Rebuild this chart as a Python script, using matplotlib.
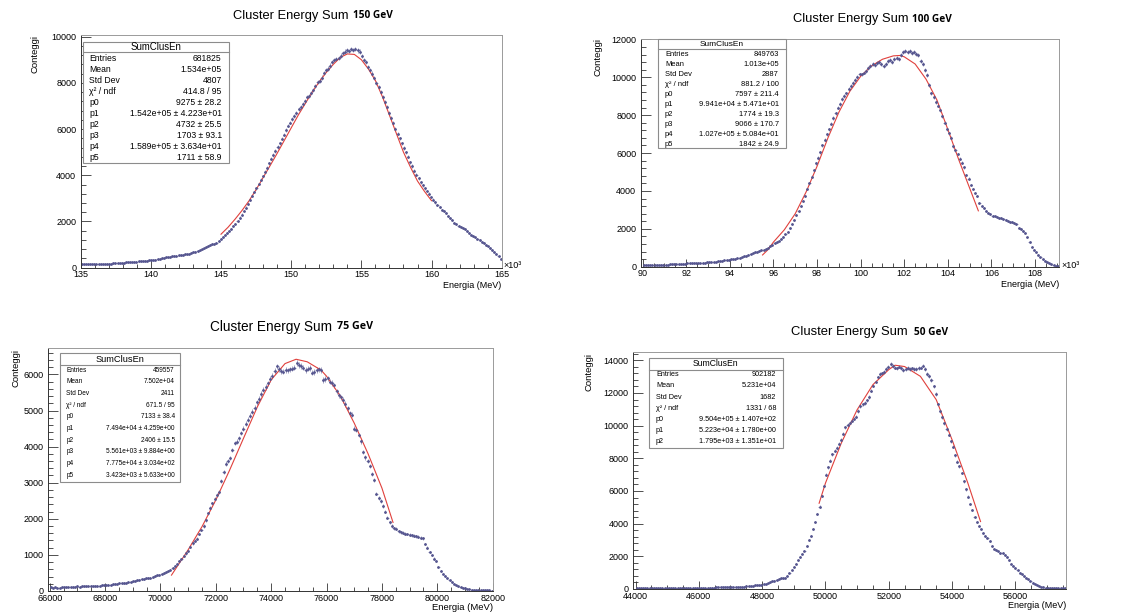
import numpy as np
import matplotlib
matplotlib.use("Agg")
import matplotlib.pyplot as plt
from matplotlib.ticker import MultipleLocator, FuncFormatter
from matplotlib.patches import Rectangle
from matplotlib.lines import Line2D

W, H = 1121, 614
plt.rcParams["font.family"] = ["Liberation Sans", "DejaVu Sans"]

# ---------------- data ----------------
# 150 GeV: 200 bins from 135000 to 165000 MeV
counts_150 = [
    150, 148, 152, 150, 155, 153, 158, 156, 160, 162,
    165, 168, 170, 174, 178, 183, 188, 196, 203, 215,
    225, 232, 238, 245, 252, 258, 266, 272, 280, 288,
    298, 306, 314, 322, 332, 345, 372, 395, 410, 430,
    445, 462, 480, 498, 512, 525, 535, 548, 560, 572,
    590, 612, 640, 665, 690, 720, 752, 790, 840, 890,
    935, 975, 1020, 1040, 1070, 1150, 1250, 1340, 1410, 1490,
    1580, 1680, 1790, 1900, 2030, 2170, 2300, 2450, 2600, 2770,
    2950, 3110, 3270, 3440, 3620, 3800, 3970, 4150, 4320, 4520,
    4720, 4880, 5050, 5230, 5380, 5580, 5760, 5950, 6150, 6280,
    6420, 6560, 6680, 6850, 6950, 7100, 7230, 7380, 7420, 7560,
    7700, 7850, 8050, 8100, 8230, 8420, 8550, 8620, 8750, 8900,
    8980, 9040, 9080, 9180, 9280, 9350, 9400, 9380, 9460, 9420,
    9470, 9400, 9350, 9150, 9000, 8900, 8700, 8550, 8400, 8200,
    8000, 7800, 7600, 7400, 7180, 6950, 6700, 6480, 6250, 6020,
    5800, 5600, 5380, 5180, 5000, 4800, 4560, 4400, 4200, 4020,
    3870, 3700, 3560, 3440, 3320, 3200, 3050, 2950, 2830, 2720,
    2620, 2500, 2440, 2360, 2250, 2150, 2060, 1950, 1900, 1800,
    1760, 1720, 1660, 1600, 1490, 1430, 1360, 1310, 1260, 1200,
    1120, 1060, 990, 920, 850, 770, 690, 610, 500, 380,
]
fit_150_x = [145000, 145500, 146000, 146500, 147000, 147500, 148000, 148500,
             149000, 149500, 150000, 150500, 151000, 151500, 152000, 152500,
             153000, 153500, 154000, 154500, 155000, 155500, 156000, 156500,
             157000, 157500, 158000, 158500, 159000, 159500, 160000]
fit_150_y = [1450, 1750, 2100, 2480, 2900, 3380, 3900, 4420,
             4950, 5500, 6050, 6600, 7100, 7600, 8050, 8450,
             8800, 9100, 9250, 9230, 9000, 8600, 8100, 7400,
             6600, 5800, 5000, 4350, 3750, 3300, 2900]
stats_150 = [("Entries", "681825"), ("Mean", "1.534e+05"), ("Std Dev", "4807"),
             ("χ² / ndf", "414.8 / 95"), ("p0", "9275 ± 28.2"),
             ("p1", "1.542e+05 ± 4.223e+01"), ("p2", "4732 ± 25.5"),
             ("p3", "1703 ± 93.1"), ("p4", "1.589e+05 ± 3.634e+01"),
             ("p5", "1711 ± 58.9")]

# 100 GeV: 191 bins from 90000 to 109100 MeV
counts_100 = [
    95, 100, 98, 105, 100, 102, 108, 104, 110, 106,
    110, 115, 118, 124, 128, 135, 140, 148, 158, 168,
    175, 172, 180, 185, 190, 195, 205, 212, 220, 228,
    235, 245, 255, 270, 290, 300, 315, 340, 360, 380,
    395, 412, 428, 448, 470, 510, 545, 590, 640, 690,
    735, 770, 800, 830, 860, 905, 940, 1000, 1080, 1150,
    1230, 1300, 1380, 1470, 1580, 1700, 1850, 2050, 2250, 2480,
    2750, 2950, 3200, 3450, 3750, 4100, 4400, 4750, 5100, 5450,
    5750, 6050, 6400, 6700, 7000, 7250, 7550, 7850, 8100, 8400,
    8600, 8850, 9000, 9150, 9400, 9550, 9700, 9850, 10000, 10150,
    10150, 10250, 10350, 10500, 10600, 10700, 10650, 10750, 10800, 10700,
    10600, 10700, 10850, 10900, 10800, 10950, 11000, 10950, 11150, 11350,
    11400, 11350, 11380, 11300, 11320, 11250, 11150, 10850, 10700, 10400,
    10100, 9600, 9150, 8950, 8700, 8500, 8250, 7950, 7600, 7250,
    7050, 6800, 6350, 6150, 5950, 5700, 5500, 5250, 4850, 4650,
    4300, 4100, 3900, 3750, 3350, 3200, 3100, 2950, 2850, 2780,
    2700, 2650, 2620, 2580, 2550, 2500, 2450, 2420, 2380, 2350,
    2300, 2250, 2050, 1980, 1900, 1800, 1550, 1300, 1050, 900,
    750, 620, 500, 400, 320, 230, 170, 120, 80, 50,
    35,
]
fit_100_x = [95500, 95750, 96000, 96500, 97000, 97500, 98000, 98500, 99000,
             99500, 100000, 100500, 101000, 101500, 101800, 102000, 102500,
             103000, 103500, 104000, 104500, 105000, 105400]
fit_100_y = [620, 900, 1300, 1950, 2800, 3950, 5300, 6800, 8150,
             9250, 10050, 10600, 10950, 11130, 11150, 11080, 10700,
             9900, 8800, 7250, 5650, 4150, 2950]
stats_100 = [("Entries", "849763"), ("Mean", "1.013e+05"), ("Std Dev", "2887"),
             ("χ² / ndf", "881.2 / 100"), ("p0", "7597 ± 211.4"),
             ("p1", "9.941e+04 ± 5.471e+01"), ("p2", "1774 ± 19.3"),
             ("p3", "9066 ± 170.7"), ("p4", "1.027e+05 ± 5.084e+01"),
             ("p5", "1842 ± 24.9")]

# 75 GeV: 200 bins from 66000 to 82000 MeV
counts_75 = [
    100, 96, 98, 92, 95, 100, 104, 102, 108, 112,
    116, 120, 125, 122, 128, 132, 130, 138, 142, 140,
    148, 152, 150, 158, 165, 170, 175, 180, 190, 200,
    205, 212, 215, 222, 230, 240, 252, 268, 285, 300,
    310, 325, 335, 350, 360, 372, 388, 410, 430, 455,
    480, 500, 520, 550, 590, 640, 690, 760, 830, 890,
    960, 1040, 1110, 1230, 1320, 1390, 1450, 1580, 1690, 1800,
    1960, 2150, 2300, 2430, 2560, 2650, 2750, 3050, 3300, 3530,
    3600, 3680, 3900, 4100, 4140, 4230, 4380, 4500, 4630, 4750,
    4860, 4960, 5080, 5230, 5320, 5460, 5580, 5650, 5750, 5880,
    5960, 6100, 6220, 6150, 6090, 6080, 6120, 6110, 6140, 6160,
    6190, 6310, 6270, 6240, 6190, 6130, 6160, 6170, 6050, 6060,
    6120, 6140, 6120, 5850, 5880, 5890, 5800, 5760, 5700, 5530,
    5420, 5370, 5290, 5180, 5060, 4930, 4880, 4500, 4470, 4320,
    4150, 3850, 3700, 3600, 3460, 3250, 3080, 2700, 2580, 2500,
    2350, 2200, 2030, 1900, 1800, 1740, 1720, 1660, 1630, 1610,
    1590, 1580, 1560, 1540, 1530, 1510, 1500, 1480, 1460, 1300,
    1200, 1080, 990, 900, 830, 660, 560, 480, 420, 350,
    300, 250, 200, 165, 130, 105, 90, 75, 60, 45,
    38, 32, 28, 25, 22, 20, 18, 15, 14, 12,
]
fit_75_x = [70400, 71000, 71500, 72000, 72500, 73000, 73500, 74000, 74500,
            74900, 75300, 75800, 76000, 76500, 77000, 77500, 78000, 78400]
fit_75_y = [440, 1140, 1780, 2520, 3350, 4230, 5100, 5850, 6300,
            6420, 6350, 6120, 5950, 5400, 4650, 3800, 2850, 1900]
stats_75 = [("Entries", "459557"), ("Mean", "7.502e+04"), ("Std Dev", "2411"),
            ("χ² / ndf", "671.5 / 95"), ("p0", "7133 ± 38.4"),
            ("p1", "7.494e+04 ± 4.259e+00"), ("p2", "2406 ± 15.5"),
            ("p3", "5.561e+03 ± 9.884e+00"), ("p4", "7.775e+04 ± 3.034e+02"),
            ("p5", "3.423e+03 ± 5.633e+00")]

# 50 GeV: 200 bins from 44000 to 57600 MeV
counts_50 = [
    40, 38, 42, 40, 44, 42, 45, 43, 46, 48,
    47, 50, 52, 50, 54, 55, 53, 57, 58, 60,
    60, 62, 61, 64, 66, 65, 68, 70, 72, 75,
    78, 80, 82, 80, 85, 88, 90, 92, 95, 98,
    100, 104, 108, 110, 115, 118, 122, 128, 132, 140,
    150, 158, 170, 182, 198, 215, 235, 255, 275, 300,
    330, 370, 410, 460, 520, 580, 640, 660, 650, 700,
    820, 1000, 1180, 1370, 1560, 1760, 1950, 2160, 2350, 2620,
    3000, 3250, 3650, 4100, 4600, 5050, 5700, 6300, 7000, 7450,
    7850, 8250, 8450, 8650, 8900, 9150, 9500, 9900, 10050, 10180,
    10300, 10420, 10550, 10900, 11200, 11300, 11400, 11550, 11750, 12150,
    12450, 12700, 12950, 13150, 13200, 13300, 13450, 13600, 13750, 13650,
    13560, 13500, 13620, 13550, 13430, 13480, 13530, 13450, 13500, 13480,
    13470, 13520, 13560, 13680, 13450, 13150, 13020, 12800, 12400, 11950,
    11300, 10900, 10500, 10150, 9800, 9450, 9050, 8700, 8200, 7800,
    7500, 7100, 6600, 6100, 5650, 5200, 4850, 4400, 4100, 3850,
    3700, 3450, 3250, 3100, 2950, 2650, 2450, 2380, 2300, 2220,
    2190, 2080, 1960, 1760, 1560, 1420, 1290, 1150, 1010, 900,
    790, 690, 590, 500, 390, 310, 240, 170, 130, 105,
    90, 80, 70, 60, 55, 50, 45, 42, 40, 40,
]
fit_50_x = [49800, 50000, 50500, 51000, 51500, 52000, 52200, 52500, 53000,
            53500, 54000, 54500, 54900]
fit_50_y = [5250, 6480, 8930, 10970, 12510, 13430, 13700, 13620, 13020,
            11590, 9140, 6480, 4130]
stats_50 = [("Entries", "902182"), ("Mean", "5.231e+04"), ("Std Dev", "1682"),
            ("χ² / ndf", "1331 / 68"), ("p0", "9.504e+05 ± 1.407e+02"),
            ("p1", "5.223e+04 ± 1.780e+00"), ("p2", "1.795e+03 ± 1.351e+01")]

HIST_COLOR = "#55558f"
FIT_COLOR = "#e0403c"

fig = plt.figure(figsize=(W / 100, H / 100), dpi=100)


def px(x, y):
    return x / W, 1 - y / H


def panel(frame, hist_range, xlim, ylim, counts, fit_x, fit_y,
          xmaj, xmin, ymaj, ymin, kilo):
    l, t, r, b = frame
    ax = fig.add_axes([l / W, 1 - b / H, (r - l) / W, (b - t) / H])
    edges = np.linspace(hist_range[0], hist_range[1], len(counts) + 1)
    centers = 0.5 * (edges[1:] + edges[:-1])
    y = np.array(counts, dtype=float)
    ax.errorbar(centers, y, yerr=np.sqrt(y), xerr=(edges[1] - edges[0]) / 2,
                fmt="o", ms=2.0, mew=0, color=HIST_COLOR, ecolor="#7a7aa8",
                elinewidth=0.5, capsize=0)
    ax.plot(fit_x, fit_y, color=FIT_COLOR, lw=0.8)
    ax.set_xlim(*xlim)
    ax.set_ylim(*ylim)
    ax.xaxis.set_major_locator(MultipleLocator(xmaj))
    ax.xaxis.set_minor_locator(MultipleLocator(xmin))
    ax.yaxis.set_major_locator(MultipleLocator(ymaj))
    ax.yaxis.set_minor_locator(MultipleLocator(ymin))
    if kilo:
        ax.xaxis.set_major_formatter(FuncFormatter(lambda v, _: f"{v / 1000:g}"))
    else:
        ax.xaxis.set_major_formatter(FuncFormatter(lambda v, _: f"{v:.0f}"))
    ax.yaxis.set_major_formatter(FuncFormatter(lambda v, _: f"{v:.0f}"))
    ax.tick_params(which="both", direction="in", top=False, right=False,
                   labelsize=6.5, width=0.6, color="#333333")
    ax.tick_params(axis="x", which="major", length=5.8, pad=2)
    ax.tick_params(axis="x", which="minor", length=2.9)
    ax.tick_params(axis="y", which="major", length=7.2, pad=3.2)
    ax.tick_params(axis="y", which="minor", length=3.6)
    for side in ("top", "right"):
        ax.spines[side].set_color("#9a9a9a")
        ax.spines[side].set_linewidth(0.7)
    for side in ("left", "bottom"):
        ax.spines[side].set_color("#333333")
        ax.spines[side].set_linewidth(0.7)
    return ax


def stat_box(box, title_y, line_y, rows_y0, row_dy, lab_x, val_x, rows,
             title_size, row_size):
    l, t, r, b = box
    fig.patches.append(Rectangle(px(l, b), (r - l) / W, (b - t) / H,
                                 transform=fig.transFigure, facecolor="white",
                                 edgecolor="#8c8c8c", lw=0.8, zorder=5))
    fig.lines.append(Line2D([l / W, r / W], [1 - line_y / H] * 2,
                            transform=fig.transFigure, color="#8c8c8c",
                            lw=0.8, zorder=6))
    fig.text(*px((l + r) / 2, title_y), "SumClusEn", ha="center", va="center",
             fontsize=title_size, zorder=7)
    for k, (lab, val) in enumerate(rows):
        yy = rows_y0 + k * row_dy
        fig.text(*px(lab_x, yy), lab, ha="left", va="center",
                 fontsize=row_size, zorder=7)
        fig.text(*px(val_x, yy), val, ha="right", va="center",
                 fontsize=row_size, zorder=7)


def title(x_left, x_right, yc, energy, size):
    fig.text(*px(x_left, yc), "Cluster Energy Sum", ha="left", va="center",
             fontsize=size)
    fig.text(*px(x_right, yc), energy, ha="right", va="center",
             fontsize=size * 0.78, family="Open Sans", weight="bold")


# ---- 150 GeV ----
panel((80.7, 35, 501.7, 267.7), (135000, 165000), (135000, 165000),
      (0, 10070), counts_150, fit_150_x, fit_150_y, 5000, 1000, 2000, 400, True)
title(233, 393, 16, "150 GeV", 9.3)
stat_box((82.7, 42, 229, 163), 47, 52.3, 58.7, 11.0, 89.3, 221.7,
         stats_150, 6.9, 6.2)
fig.text(*px(35, 35), "Conteggi", rotation=90, ha="center", va="top", fontsize=6.8)
fig.text(*px(501.7, 285), "Energia (MeV)", ha="right", va="center", fontsize=6.5)
fig.text(*px(503, 265), "×10³", ha="left", va="center", fontsize=6.5)

# ---- 100 GeV ----
panel((640.7, 39, 1059, 266.7), (90000, 109100), (89910, 109100),
      (0, 12020), counts_100, fit_100_x, fit_100_y, 2000, 500, 2000, 400, True)
title(793, 952, 19, "100 GeV", 9.3)
stat_box((658.3, 39, 785.7, 148.3), 44, 49, 54, 10.0, 665, 779,
         stats_100, 6.0, 5.4)
fig.text(*px(597.7, 38.3), "Conteggi", rotation=90, ha="center", va="top", fontsize=6.8)
fig.text(*px(1059, 284.3), "Energia (MeV)", ha="right", va="center", fontsize=6.5)
fig.text(*px(1061, 265.7), "×10³", ha="left", va="center", fontsize=6.5)

# ---- 75 GeV ----
panel((48, 347.7, 492.7, 591), (66000, 82000), (65940, 82000),
      (0, 6740), counts_75, fit_75_x, fit_75_y, 2000, 500, 1000, 200, False)
title(210, 373, 326.7, "75 GeV", 9.8)
stat_box((60, 352.7, 180.3, 481.7), 359, 365, 370.3, 11.67, 66.3, 174.7,
         stats_75, 6.7, 4.7)
fig.text(*px(16, 349), "Conteggi", rotation=90, ha="center", va="top", fontsize=6.8)
fig.text(*px(492.7, 607.7), "Energia (MeV)", ha="right", va="center", fontsize=6.8)

# ---- 50 GeV ----
panel((633, 352, 1066, 589), (44000, 57600), (43920, 57600),
      (0, 14510), counts_50, fit_50_x, fit_50_y, 2000, 500, 2000, 400, False)
title(791, 948, 332.3, "50 GeV", 9.4)
stat_box((649, 358.3, 782.7, 447.7), 364, 370, 374.7, 11.17, 656, 776,
         stats_50, 6.2, 5.2)
fig.text(*px(589, 353), "Conteggi", rotation=90, ha="center", va="top", fontsize=6.8)
fig.text(*px(1066, 605.7), "Energia (MeV)", ha="right", va="center", fontsize=6.5)

fig.savefig("out.png", dpi=100)
